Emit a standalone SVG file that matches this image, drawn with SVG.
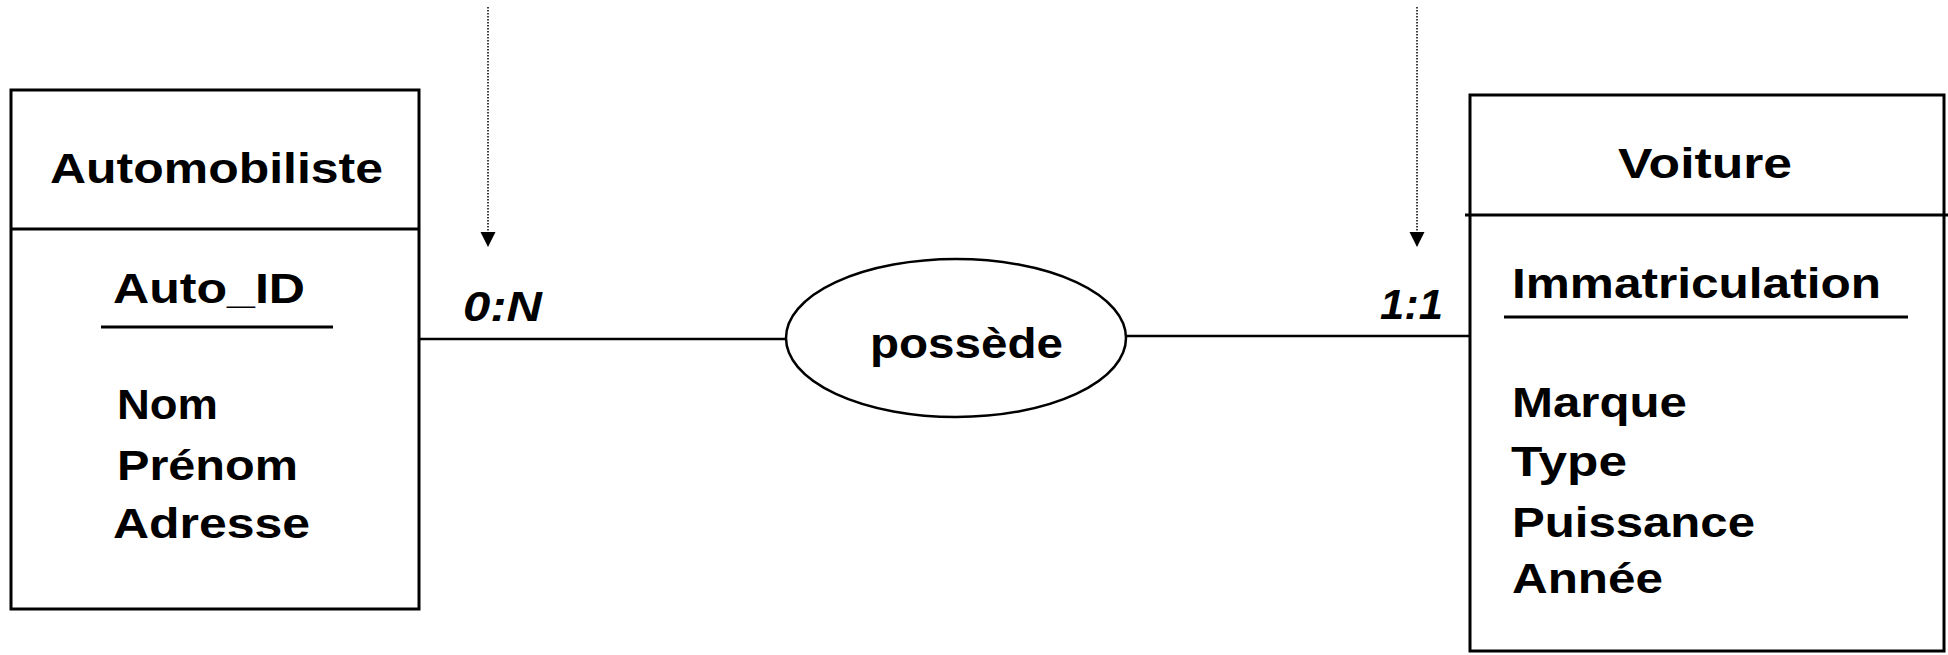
<svg xmlns="http://www.w3.org/2000/svg" width="1948" height="655" viewBox="0 0 1948 655">
<style>
.t{font-family:"Liberation Sans",Arial,sans-serif;font-weight:bold;font-size:43px;fill:#000}
.i{font-style:italic}
.box{fill:#fff;stroke:#000;stroke-width:3}
.ln{stroke:#000;stroke-width:3;fill:none}
.cn{stroke:#000;stroke-width:2.5;fill:none}
.dot{stroke:#000;stroke-width:1.5;stroke-dasharray:1.5 1.5;fill:none}
</style>
<defs>
<marker id="ah" markerWidth="16" markerHeight="16" refX="15" refY="7.5" orient="auto" markerUnits="userSpaceOnUse">
<path d="M0,0 L15,7.5 L0,15 Z" fill="#000"/>
</marker>
</defs>
<rect width="1948" height="655" fill="#fff"/>
<g id="connectors">
<line class="cn" x1="419" y1="339" x2="786" y2="339"/>
<line class="cn" x1="1126" y1="336" x2="1469" y2="336"/>
<line class="dot" x1="488" y1="7" x2="488" y2="247" marker-end="url(#ah)"/>
<line class="dot" x1="1417" y1="7" x2="1417" y2="247" marker-end="url(#ah)"/>
<text class="t i" x="463" y="321" textLength="79" lengthAdjust="spacingAndGlyphs">0:N</text>
<text class="t i" x="1380" y="319" textLength="63" lengthAdjust="spacingAndGlyphs">1:1</text>
</g>
<g id="automobiliste">
<rect class="box" x="11" y="90" width="408" height="519"/>
<line class="ln" x1="11" y1="229" x2="419" y2="229"/>
<text class="t" x="50" y="183" textLength="333" lengthAdjust="spacingAndGlyphs">Automobiliste</text>
<text class="t" x="113" y="303" textLength="192" lengthAdjust="spacingAndGlyphs">Auto_ID</text>
<line class="ln" x1="101" y1="327" x2="333" y2="327"/>
<text class="t" x="117" y="419" textLength="101" lengthAdjust="spacingAndGlyphs">Nom</text>
<text class="t" x="117" y="480" textLength="181" lengthAdjust="spacingAndGlyphs">Prénom</text>
<text class="t" x="113" y="538" textLength="197" lengthAdjust="spacingAndGlyphs">Adresse</text>
</g>
<g id="possede">
<ellipse cx="956" cy="338" rx="170" ry="79" fill="#fff" stroke="#000" stroke-width="2.5"/>
<text class="t" x="870" y="358" textLength="193" lengthAdjust="spacingAndGlyphs">possède</text>
</g>
<g id="voiture">
<rect class="box" x="1470" y="95" width="474" height="556"/>
<line class="ln" x1="1465" y1="215" x2="1948" y2="215"/>
<text class="t" x="1618" y="178" textLength="174" lengthAdjust="spacingAndGlyphs">Voiture</text>
<text class="t" x="1512" y="298" textLength="369" lengthAdjust="spacingAndGlyphs">Immatriculation</text>
<line class="ln" x1="1504" y1="317" x2="1908" y2="317"/>
<text class="t" x="1512" y="417" textLength="175" lengthAdjust="spacingAndGlyphs">Marque</text>
<text class="t" x="1511" y="476" textLength="116" lengthAdjust="spacingAndGlyphs">Type</text>
<text class="t" x="1512" y="537" textLength="243" lengthAdjust="spacingAndGlyphs">Puissance</text>
<text class="t" x="1512" y="593" textLength="151" lengthAdjust="spacingAndGlyphs">Année</text>
</g>
</svg>
